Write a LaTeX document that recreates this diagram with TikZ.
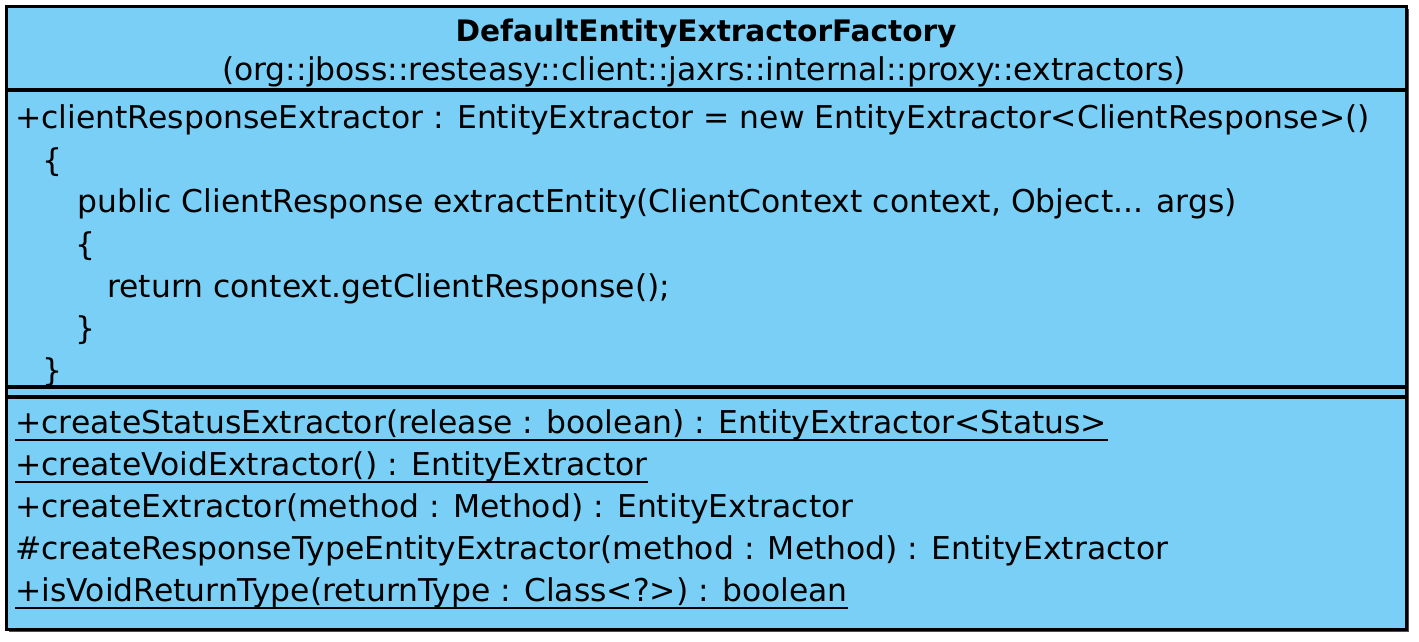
\documentclass[tikz,border=0pt]{standalone}
\usepackage{fontspec}
\setmainfont{DejaVu Sans}
\definecolor{classblue}{RGB}{121,207,245}
\tikzset{
  txt/.style={anchor=base west, inner sep=0pt, font=\fontsize{15.7}{18}\selectfont},
  ttl/.style={anchor=base, inner sep=0pt, font=\fontsize{15.7}{18}\selectfont},
  sep/.style={line width=1.6pt},
  uline/.style={line width=1.2pt}
}
\begin{document}
\begin{tikzpicture}[x=0.5pt,y=-0.5pt]
\useasboundingbox (0,0) rectangle (1419,642);
\fill[black!70] (9,9) rectangle (1409,632);
\filldraw[fill=classblue, sep] (6.5,6.5) rectangle (1406.5,629.5);

\draw[sep] (6.5,90) -- (1406.5,90);
\draw[sep] (6.5,387) -- (1406.5,387);
\draw[sep] (6.5,397) -- (1406.5,397);

\node[ttl, font=\fontsize{14.8}{18}\selectfont\bfseries] (name) at (706,42) {DefaultEntityExtractorFactory};
\node[ttl] (pkg) at (704,81) {(org::jboss::resteasy::client::jaxrs::internal::proxy::extractors)};

\node[txt] (a1) at (15,129) {+clientResponseExtractor : EntityExtractor = new EntityExtractor<ClientResponse>()};
\node[txt] (a2) at (42,171) {\{};
\node[txt] (a3) at (77,213) {public ClientResponse extractEntity(ClientContext context, Object... args)};
\node[txt] (a4) at (75,255) {\{};
\node[txt] (a5) at (107,297) {return context.getClientResponse();};
\node[txt] (a6) at (75,339) {\}};
\node[txt] (a7) at (42,381) {\}};

\node[txt] (o1) at (15,433) {+createStatusExtractor(release : boolean) : EntityExtractor<Status>};
\node[txt] (o2) at (15,475) {+createVoidExtractor() : EntityExtractor};
\node[txt] (o3) at (15,517) {+createExtractor(method : Method) : EntityExtractor};
\node[txt] (o4) at (15,559) {\#createResponseTypeEntityExtractor(method : Method) : EntityExtractor};
\node[txt] (o5) at (15,601) {+isVoidReturnType(returnType : Class<?>) : boolean};

\draw[uline] ([yshift=-3.5pt]o1.base west) -- ([yshift=-3.5pt]o1.base east);
\draw[uline] ([yshift=-3.5pt]o2.base west) -- ([yshift=-3.5pt]o2.base east);
\draw[uline] ([yshift=-3.5pt]o5.base west) -- ([yshift=-3.5pt]o5.base east);
\end{tikzpicture}
\end{document}
